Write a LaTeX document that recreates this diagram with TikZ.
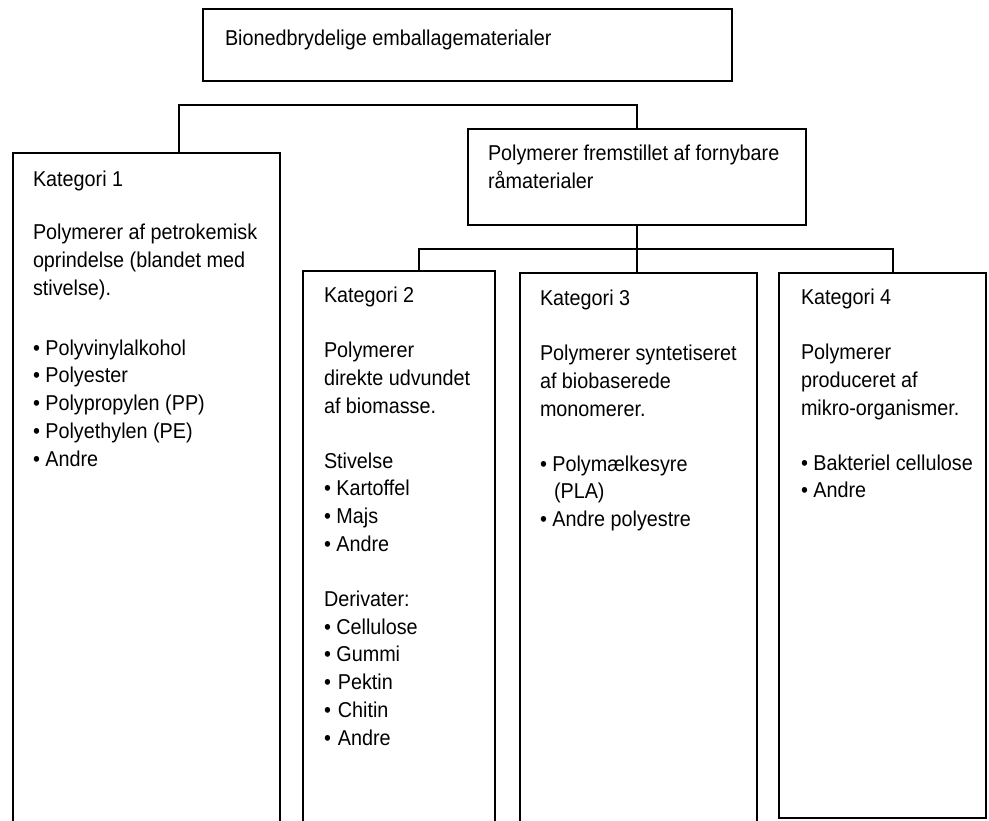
\documentclass[tikz,border=0pt]{standalone}
\usepackage{fontspec}
\setmainfont[FakeStretch=0.92]{Liberation Sans}
\newcommand{\boxlines}[1]{\vtop{\hsize=420pt\parindent=0pt\raggedright #1\par}}
\begin{document}
\begin{tikzpicture}[x=1pt,y=-1pt,
  box/.style={draw, line width=1.6pt, inner sep=0pt, outer sep=0pt, anchor=north west},
  txt/.style={anchor=base west, inner sep=0pt, outer sep=0pt, font=\fontsize{21.5}{27.8}\selectfont},
  conn/.style={line width=1.6pt}]
\clip (0,0) rectangle (989,821);
% boxes
\node[box, minimum width=529pt, minimum height=72pt] (top) at (203,9) {};
\node[box, minimum width=338pt, minimum height=96pt] (poly) at (468,129) {};
\node[box, minimum width=267pt, minimum height=700pt] (k1) at (13,153) {};
\node[box, minimum width=192pt, minimum height=700pt] (k2) at (303,271) {};
\node[box, minimum width=237pt, minimum height=700pt] (k3) at (520,273) {};
\node[box, minimum width=207pt, minimum height=545pt] (k4) at (779,273) {};
% connectors
\coordinate (ja) at (179,105);
\draw[conn] (ja |- k1.north) -- (ja) -- (ja -| poly.north) -- (poly.north);
\draw[conn] (poly.south) -- (poly.south |- k3.north);
\coordinate (jb) at (419,249);
\coordinate (jc) at (893,249);
\draw[conn] (jb |- k2.north) -- (jb) -- (jc) -- (jc |- k4.north);
% texts
\node[txt] (ttop) at (225,46) {Bionedbrydelige emballagematerialer};
\node[txt] (tpoly) at (488,161) {\boxlines{Polymerer fremstillet af fornybare\\råmaterialer}};
\node[txt] (t1) at (33,187) {\boxlines{Kategori 1\\[25pt]Polymerer af petrokemisk\\oprindelse (blandet med\\stivelse).\\[32pt]• Polyvinylalkohol\\• Polyester\\• Polypropylen (PP)\\• Polyethylen (PE)\\• Andre}};
\node[txt] (t2) at (324,303) {\boxlines{Kategori 2\\[27pt]Polymerer\\direkte udvundet\\af biomasse.\\[27pt]Stivelse\\• Kartoffel\\• Majs\\• Andre\\[27pt]Derivater:\\• Cellulose\\• Gummi\\• \hspace{1.5pt}Pektin\\• \hspace{1.5pt}Chitin\\• \hspace{1.5pt}Andre}};
\node[txt] (t3) at (540,306) {\boxlines{Kategori 3\\[27pt]Polymerer syntetiseret\\af biobaserede\\monomerer.\\[27pt]• Polymælkesyre\\\hspace*{14pt}(PLA)\\• Andre polyestre}};
\node[txt] (t4) at (801,305) {\boxlines{Kategori 4\\[27pt]Polymerer\\produceret af\\mikro-organismer.\\[27pt]• Bakteriel cellulose\\• Andre}};
\end{tikzpicture}
\end{document}
